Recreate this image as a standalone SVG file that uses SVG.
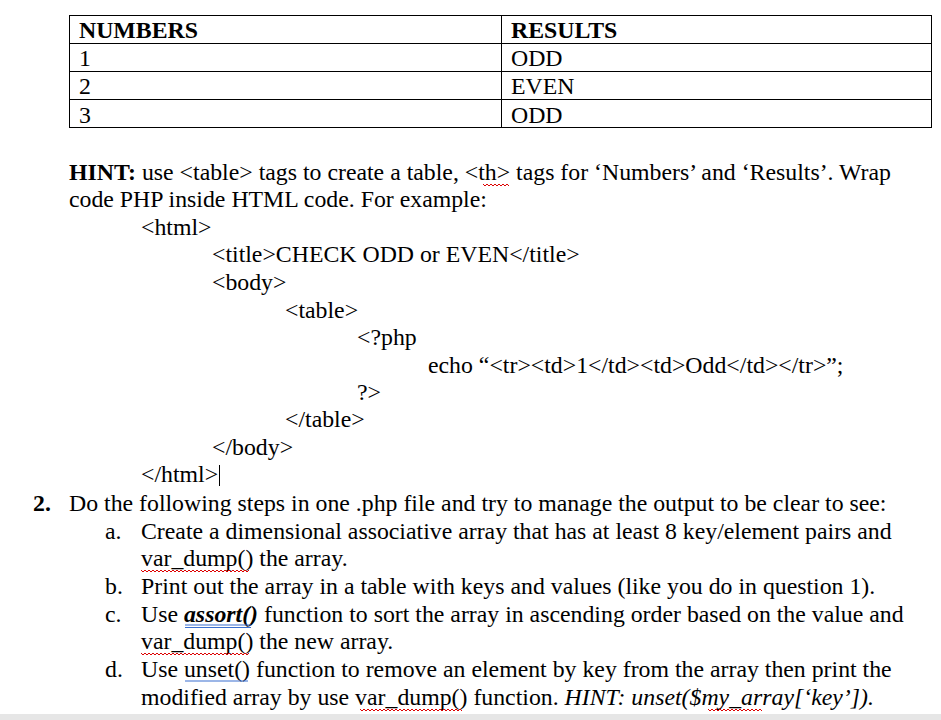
<svg xmlns="http://www.w3.org/2000/svg" width="941" height="720" viewBox="0 0 941 720">
<style>
text{font-family:"Liberation Serif","Times New Roman",serif;font-size:23.8px;fill:#000}
.b{font-weight:bold}
.sq{fill:none;stroke:#d00;stroke-width:1}
.tl{stroke:#000;stroke-width:1;fill:none}
</style>
<rect width="941" height="720" fill="#fff"/>
<g id="table">
<rect class="tl" x="69.5" y="15.5" width="862" height="112"/>
<line class="tl" x1="501.5" y1="15" x2="501.5" y2="128"/>
<line class="tl" x1="69" y1="43.5" x2="932" y2="43.5"/>
<line class="tl" x1="69" y1="71.5" x2="932" y2="71.5"/>
<line class="tl" x1="69" y1="99.5" x2="932" y2="99.5"/>
<text class="b" x="79" y="38">NUMBERS</text>
<text class="b" x="511" y="38">RESULTS</text>
<text x="79" y="66">1</text><text x="511" y="66">ODD</text>
<text x="79" y="94">2</text><text x="511" y="94">EVEN</text>
<text x="79" y="123">3</text><text x="511" y="123">ODD</text>
</g>
<g id="hint">
<text x="69" y="180"><tspan class="b">HINT:</tspan> use &lt;table&gt; tags to create a table, &lt;th&gt; tags for ‘Numbers’ and ‘Results’. Wrap</text>
<text x="69" y="207">code PHP inside HTML code. For example:</text>
<text x="141" y="235">&lt;html&gt;</text>
<text x="212" y="262">&lt;title&gt;CHECK ODD or EVEN&lt;/title&gt;</text>
<text x="212" y="290">&lt;body&gt;</text>
<text x="285" y="318">&lt;table&gt;</text>
<text x="357" y="345">&lt;?php</text>
<text x="428" y="373">echo “&lt;tr&gt;&lt;td&gt;1&lt;/td&gt;&lt;td&gt;Odd&lt;/td&gt;&lt;/tr&gt;”;</text>
<text x="357" y="400">?&gt;</text>
<text x="285" y="427">&lt;/table&gt;</text>
<text x="212" y="455">&lt;/body&gt;</text>
<text x="141" y="482">&lt;/html&gt;</text>
<line class="tl" x1="219.5" y1="465" x2="219.5" y2="486"/>
</g>
<g id="q2">
<text class="b" x="33" y="511">2.</text>
<text x="69" y="511">Do the following steps in one .php file and try to manage the output to be clear to see:</text>
<text x="105" y="539">a.</text>
<text x="141" y="539">Create a dimensional associative array that has at least 8 key/element pairs and</text>
<text x="141" y="566">var_dump() the array.</text>
<text x="105" y="594">b.</text>
<text x="141" y="594">Print out the array in a table with keys and values (like you do in question 1).</text>
<text x="105" y="622">c.</text>
<text x="141" y="622">Use <tspan class="b" font-style="italic">assort()</tspan> function to sort the array in ascending order based on the value and</text>
<text x="141" y="649">var_dump() the new array.</text>
<text x="105" y="677">d.</text>
<text x="141" y="677">Use unset() function to remove an element by key from the array then print the</text>
<text x="141" y="705">modified array by use var_dump() function. <tspan font-style="italic">HINT: unset($my_array[‘key’]).</tspan></text>
</g>
<g id="marks">
<path class="sq" d="M483 184 l2 2 l2 -2 l2 2 l2 -2 l2 2 l2 -2 l2 2 l2 -2 l2 2 l2 -2 l2 2 l2 -2 l2 2"/>
<path class="sq" d="M141 570 l2 2 l2 -2 l2 2 l2 -2 l2 2 l2 -2 l2 2 l2 -2 l2 2 l2 -2 l2 2 l2 -2 l2 2 l2 -2 l2 2 l2 -2 l2 2 l2 -2 l2 2 l2 -2 l2 2 l2 -2 l2 2 l2 -2 l2 2 l2 -2 l2 2 l2 -2 l2 2 l2 -2 l2 2 l2 -2 l2 2 l2 -2 l2 2 l2 -2 l2 2 l2 -2 l2 2 l2 -2 l2 2 l2 -2 l2 2 l2 -2 l2 2 l2 -2 l2 2 l2 -2 l2 2 l2 -2 l2 2 l2 -2 l2 2 l2 -2"/>
<path class="sq" d="M141 653 l2 2 l2 -2 l2 2 l2 -2 l2 2 l2 -2 l2 2 l2 -2 l2 2 l2 -2 l2 2 l2 -2 l2 2 l2 -2 l2 2 l2 -2 l2 2 l2 -2 l2 2 l2 -2 l2 2 l2 -2 l2 2 l2 -2 l2 2 l2 -2 l2 2 l2 -2 l2 2 l2 -2 l2 2 l2 -2 l2 2 l2 -2 l2 2 l2 -2 l2 2 l2 -2 l2 2 l2 -2 l2 2 l2 -2 l2 2 l2 -2 l2 2 l2 -2 l2 2 l2 -2 l2 2 l2 -2 l2 2 l2 -2 l2 2 l2 -2"/>
<path class="sq" d="M360 709 l2 2 l2 -2 l2 2 l2 -2 l2 2 l2 -2 l2 2 l2 -2 l2 2 l2 -2 l2 2 l2 -2 l2 2 l2 -2 l2 2 l2 -2 l2 2 l2 -2 l2 2 l2 -2 l2 2 l2 -2 l2 2 l2 -2 l2 2 l2 -2 l2 2 l2 -2 l2 2 l2 -2 l2 2 l2 -2 l2 2 l2 -2 l2 2 l2 -2 l2 2 l2 -2 l2 2 l2 -2 l2 2 l2 -2 l2 2 l2 -2 l2 2 l2 -2 l2 2 l2 -2 l2 2 l2 -2 l2 2"/>
<path class="sq" d="M708 709 l2 2 l2 -2 l2 2 l2 -2 l2 2 l2 -2 l2 2 l2 -2 l2 2 l2 -2 l2 2 l2 -2 l2 2 l2 -2 l2 2 l2 -2 l2 2 l2 -2 l2 2 l2 -2 l2 2 l2 -2 l2 2 l2 -2 l2 2 l2 -2 l2 2"/>
<line x1="185" y1="625" x2="251" y2="625" stroke="#3a6fd0" stroke-width="1.2"/>
<line x1="185" y1="627.5" x2="251" y2="627.5" stroke="#3a6fd0" stroke-width="1.2"/>
<line x1="185" y1="681" x2="248" y2="681" stroke="#3a6fd0" stroke-width="1.2"/>
<rect x="0" y="714" width="941" height="6" fill="#e6e6e6"/>
</g>
</svg>
